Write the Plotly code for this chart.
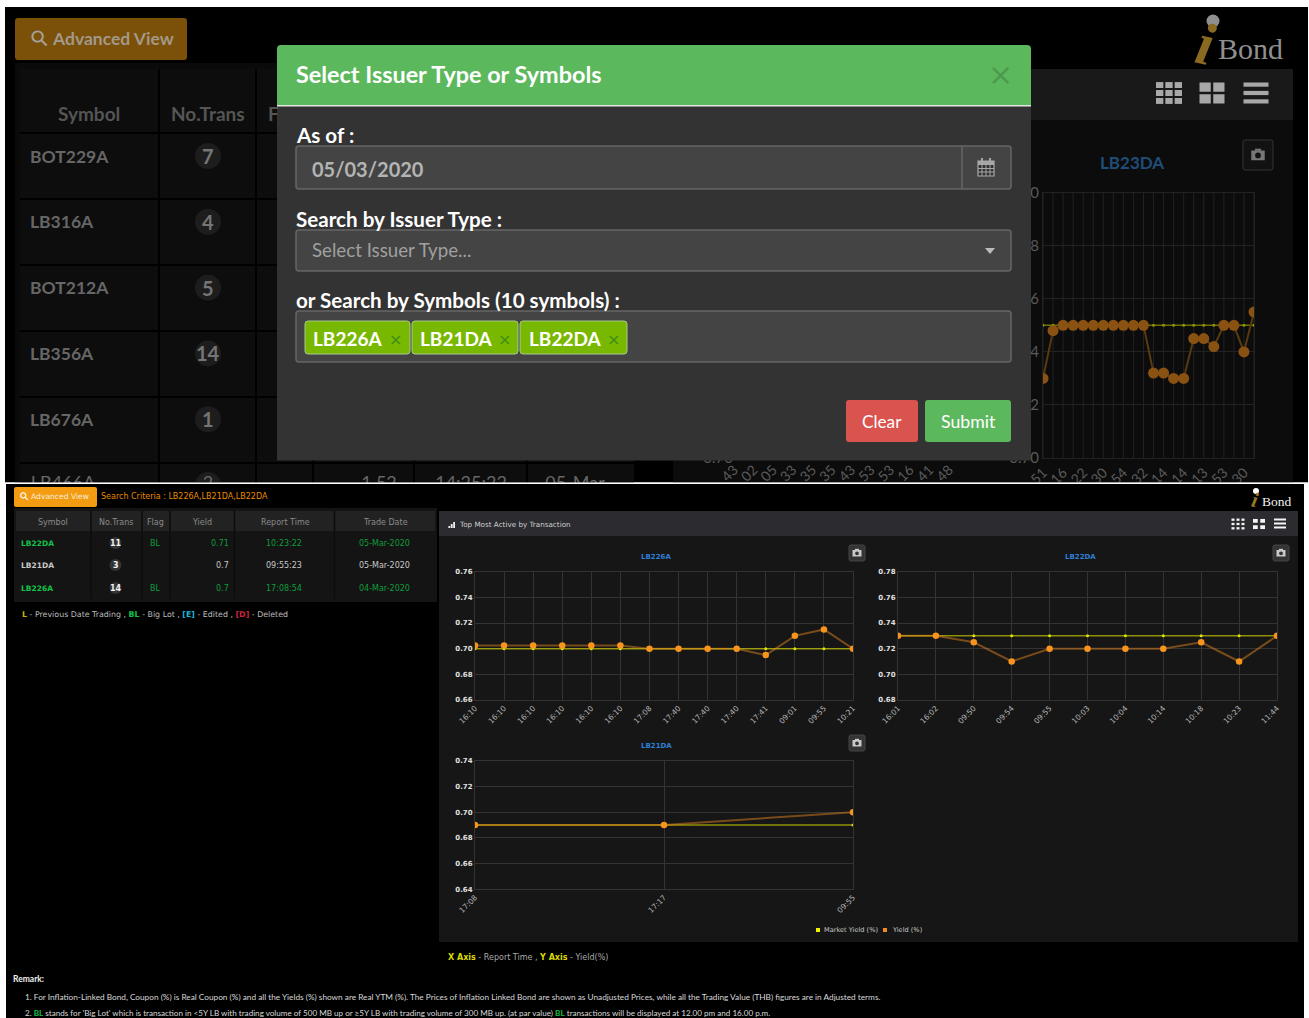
import plotly.graph_objects as go

W, H = 1309, 1018

# ---------- data ----------
top_symbols = ["BOT229A", "LB316A", "BOT212A", "LB356A", "LB676A"]
top_trans = ["7", "4", "5", "14", "1"]
cropped_row_cells = ["LB466A", "2", "1.52", "14:25:22", "05-Mar"]

table_columns = ["Symbol", "No.Trans", "Flag", "Yield", "Report Time", "Trade Date"]
table_symbols = ["LB22DA", "LB21DA", "LB226A"]
table_trans = ["11", "3", "14"]
table_flags = ["BL", "", "BL"]
table_yields = ["0.71", "0.7", "0.7"]
table_times = ["10:23:22", "09:55:23", "17:08:54"]
table_dates = ["05-Mar-2020", "05-Mar-2020", "04-Mar-2020"]

lb23da_yield = [0.73, 0.748, 0.75, 0.75, 0.75, 0.75, 0.75, 0.75, 0.75, 0.75, 0.75,
                0.732, 0.732, 0.73, 0.73, 0.745, 0.745, 0.742, 0.75, 0.75, 0.74, 0.755]
lb23da_market = [0.75] * 22
lb23da_ticks = ["51", "16", "22", "30", "54", "32", "14", "14", "13", "53", "30"]
hidden_chart_ticks = ["43", "02", "05", "33", "35", "35", "43", "53", "53", "16", "41", "48"]

lb226a_time = ["16:10", "16:10", "16:10", "16:10", "16:10", "16:10", "17:08",
               "17:40", "17:40", "17:40", "17:41", "09:01", "09:55", "10:21"]
lb226a_yield = [0.7025, 0.7025, 0.7025, 0.7025, 0.7025, 0.7025, 0.70,
                0.70, 0.70, 0.70, 0.695, 0.71, 0.715, 0.70]
lb226a_market = [0.70] * 14

lb22da_time = ["16:01", "16:02", "09:50", "09:54", "09:55", "10:03",
               "10:04", "10:14", "10:18", "10:23", "11:44"]
lb22da_yield = [0.73, 0.73, 0.725, 0.71, 0.72, 0.72, 0.72, 0.72, 0.725, 0.71, 0.73]
lb22da_market = [0.73] * 11

lb21da_time = ["17:08", "17:17", "09:55"]
lb21da_yield = [0.69, 0.69, 0.70]
lb21da_market = [0.69, 0.69, 0.69]

# ---------- helpers ----------
NARROW = "Lato, sans-serif"
DEJA = "DejaVu Sans, sans-serif"
SERIF = "Liberation Serif, serif"
shapes, annots = [], []


def fx(x):
    return x / W


def fy(y):
    return 1 - y / H


def rect(x0, y0, x1, y1, fill, line=None, layer="below", lw=1):
    shapes.append(dict(type="rect", xref="paper", yref="paper", x0=fx(x0), x1=fx(x1), y0=fy(y1), y1=fy(y0),
                       fillcolor=fill, line=dict(color=line or fill, width=lw if line else 0), layer=layer))


def rrect(x0, y0, x1, y1, r, fill, line=None, layer="below", lw=1):
    X0, X1, Y0, Y1 = fx(x0), fx(x1), fy(y0), fy(y1)
    rx, ry = r / W, r / H
    p = (f"M{X0+rx},{Y0} L{X1-rx},{Y0} Q{X1},{Y0} {X1},{Y0-ry} L{X1},{Y1+ry} Q{X1},{Y1} {X1-rx},{Y1} "
         f"L{X0+rx},{Y1} Q{X0},{Y1} {X0},{Y1+ry} L{X0},{Y0-ry} Q{X0},{Y0} {X0+rx},{Y0} Z")
    shapes.append(dict(type="path", xref="paper", yref="paper", path=p, fillcolor=fill,
                       line=dict(color=line or fill, width=lw if line else 0), layer=layer))


def circle(cx, cy, r, fill, line=None, layer="below", lw=1):
    shapes.append(dict(type="circle", xref="paper", yref="paper", x0=fx(cx-r), x1=fx(cx+r), y0=fy(cy+r), y1=fy(cy-r),
                       fillcolor=fill, line=dict(color=line or fill, width=lw if line else 0), layer=layer))


def seg(x0, y0, x1, y1, color, lw=1, layer="below"):
    shapes.append(dict(type="line", xref="paper", yref="paper", x0=fx(x0), x1=fx(x1), y0=fy(y0), y1=fy(y1),
                       line=dict(color=color, width=lw), layer=layer))


def text(x, y, s, size, color, anchor="left", family=NARROW, bold=False, angle=0, italic=False):
    if bold:
        s = f"<b>{s}</b>"
    if italic:
        s = f"<i>{s}</i>"
    annots.append(dict(xref="x7", yref="y7", x=x, y=y, text=s,
                       showarrow=False, xanchor=anchor, yanchor="middle", textangle=angle,
                       font=dict(size=size, color=color, family=family), borderpad=0, borderwidth=0))


def grid_icon(cx, cy, n, size, color, layer="below"):
    gap = 2 if n == 3 else 2.5
    w = (size - gap * (n - 1)) / n
    hh = size * 0.84
    h = (hh - gap * (n - 1)) / n
    for i in range(n):
        for j in range(n):
            x = cx - size / 2 + i * (w + gap)
            y = cy - hh / 2 + j * (h + gap)
            rect(x, y, x + w, y + h, color, layer=layer)


def lines_icon(cx, cy, w, h, color):
    bar = h / 5
    for j in range(3):
        y = cy - h / 2 + j * 2 * bar
        rect(cx - w / 2, y, cx + w / 2, y + bar, color)


def camera_button(cx, cy, size, bg, border, icon):
    rrect(cx - size / 2, cy - size / 2, cx + size / 2, cy + size / 2, 2, bg, border)
    s = size / 16 * (0.8 if size > 20 else 1)
    rect(cx - 4.5 * s, cy - 3 * s, cx + 4.5 * s, cy + 3.5 * s, icon)
    rect(cx - 2 * s, cy - 4.2 * s, cx + 2 * s, cy - 2.8 * s, icon)
    circle(cx, cy + 0.3 * s, 1.9 * s, bg)


# ---------- backgrounds ----------
rect(5, 7, 1308, 482.4, "#000000")
rect(6, 484, 1304, 1018, "#000000")

# --- upper screenshot, dimmed page ---
rrect(15, 18, 187, 60, 3, "#7b5008")
text(39, 38, "⚲", 22, "#a5a19a", "center", DEJA, angle=-45)
text(52, 38, "Advanced View", 17.5, "#a3998a", bold=True)

rect(15, 63, 634, 482.4, "#0a0a0a")
rect(20, 69, 634, 482.4, "#0d0d0d")
for x in [159, 256, 313, 414, 527]:
    seg(x, 69, x, 482.4, "#000000", 2)
for y in [133, 199, 265, 331, 397, 463]:
    seg(20, y, 634, y, "#000000", 2)
text(89, 113, "Symbol", 19, "#555555", "center", bold=True)
text(208, 113, "No.Trans", 19, "#555555", "center", bold=True)
text(268, 113, "F", 19, "#555555", bold=True)
for i, (sym, tr) in enumerate(zip(top_symbols, top_trans)):
    yy = 156 + i * 65.8
    text(30, yy, sym, 17.5, "#666666", bold=True)
    circle(208, yy, 13, "#1d1d1d")
    text(208, yy, tr, 20, "#757575", "center", bold=True)
circle(208, 485, 13, "#1d1d1d")

rect(673, 69, 1293, 482.4, "#0c0c0c")
rect(673, 69, 1293, 120, "#191919")
grid_icon(1169, 93, 3, 26, "#a8a8a8")
grid_icon(1212, 93, 2, 25, "#a8a8a8")
lines_icon(1256, 93, 25, 21, "#a8a8a8")
text(1132, 162, "LB23DA", 17, "#1f4e79", "center", bold=True)
camera_button(1258, 155, 30, "#121212", "#333333", "#777777")

# upper logo
circle(1213, 21, 6.5, "#8f8f8f")
text(1205, 44, "i", 60, "#8a6a20", "center", SERIF, bold=True, italic=True, angle=12)
text(1218, 48, "Bond", 30, "#8f8f8f", family=SERIF)

# --- modal ---
A = "above"
rrect(277, 45, 1031, 110, 4, "#5cb85c", layer=A)
rect(277, 105, 1031, 460.5, "#333333", layer=A)
rect(277, 105, 1031, 106.5, "#e6e6e6", layer=A)
rrect(296, 146, 1011, 189, 3, "#444444", "#666666", layer=A, lw=1.5)
seg(962, 146, 962, 189, "#666666", 1.5, layer=A)
rrect(296, 230, 1011, 271, 3, "#444444", "#666666", layer=A, lw=1.5)
rrect(296, 311, 1011, 362, 3, "#444444", "#666666", layer=A, lw=1.5)
# calendar glyph
rect(978, 161, 994, 176, "#333333", "#a8a8a8", layer=A, lw=1.2)
rect(978, 161, 994, 165, "#a8a8a8", layer=A)
for x in [982, 986, 990]:
    seg(x, 165, x, 176, "#a8a8a8", 1, layer=A)
for y in [168.5, 172]:
    seg(978, y, 994, y, "#a8a8a8", 1, layer=A)
for x in [982, 990]:
    seg(x, 158, x, 163, "#a8a8a8", 2, layer=A)
# select caret
shapes.append(dict(type="path", xref="paper", yref="paper", layer=A, fillcolor="#bbbbbb", line=dict(width=0),
                   path=f"M{fx(985)},{fy(248)} L{fx(995)},{fy(248)} L{fx(990)},{fy(254)} Z"))
# tags
for x0, x1 in [(305, 410), (412, 518), (520, 627)]:
    rrect(x0, 321, x1, 354, 3, "#79b800", "#a9c98f", layer=A)
rrect(846, 400, 918, 442, 3, "#d9534f", layer=A)
rrect(925, 400, 1011, 442, 3, "#5cb85c", layer=A)

text(296, 74, "Select Issuer Type or Symbols", 23.4, "#ffffff", bold=True)
text(1000, 74, "×", 30, "#4d9a4d", "center", DEJA)
text(296, 135, "As of :", 20.6, "#ffffff", bold=True)
text(312, 168.5, "05/03/2020", 20, "#b4b4b4", bold=True)
text(296, 219, "Search by Issuer Type :", 20.6, "#ffffff", bold=True)
text(312, 250, "Select Issuer Type...", 18.7, "#a0a0a0")
text(296, 300, "or Search by Symbols (10 symbols) :", 20.6, "#ffffff", bold=True)
for x, s, xx in [(313, "LB226A", 395), (420, "LB21DA", 504), (529, "LB22DA", 613)]:
    text(x, 338, s, 19, "#ffffff", bold=True)
    text(xx, 339, "×", 16, "#3d8f12", "center", DEJA)
text(882, 421, "Clear", 17.2, "#ffffff", "center")
text(968, 421, "Submit", 17.7, "#ffffff", "center")

# --- crop line between the two screenshots: hides what runs past it ---
rect(0, 482.4, W, 484, "#ffffff", layer=A)
rect(6, 484, 1304, 511, "#000000", layer=A)
rect(0, 484, 6, 511, "#ffffff", layer=A)
rect(1304, 484, W, 511, "#ffffff", layer=A)

# --- lower screenshot: header row ---
rrect(14, 487, 97, 507, 2, "#f39c12", layer=A)
text(24, 496, "⚲", 11, "#ffffff", "center", DEJA, angle=-45)
text(31, 496.5, "Advanced View", 7.6, "#f8ecd8", family=DEJA)
text(101, 496, "Search Criteria : LB226A,LB21DA,LB22DA", 8, "#e88a00", family=DEJA)
circle(1256, 491, 3, "#ffffff", layer=A)
text(1255, 500, "i", 21, "#9a7a20", "center", SERIF, bold=True, italic=True, angle=12)
text(1262, 501.5, "Bond", 13.5, "#f0f0f0", family=SERIF)

# --- lower screenshot: table ---
rect(14, 508, 437, 602, "#141414", layer=A)
rect(16, 511, 435, 531, "#222222", layer=A)
rect(14, 531, 437, 602, "#141414")
rows_y = [(532, 554), (554, 576), (576, 599)]
for y0, y1 in rows_y:
    rect(16, y0, 435, y1, "#191919")
for y in [532, 554, 576]:
    seg(16, y, 435, y, "#0c0c0c", 1.5)
for x in [91, 142, 170, 234.5, 334.5]:
    seg(x, 511, x, 599, "#0c0c0c", 1.5, layer=A)

header_x = [53, 116, 155, 202, 285, 385]
for hx, c in zip(header_x, table_columns):
    text(hx, 522, c, 8, "#8a8a8a", "center", DEJA)

GREEN, WHITE = "#13c24a", "#c8c8c8"
row_cols = [GREEN, WHITE, GREEN]
dim_green = ["#0f9c3c", "#c8c8c8", "#0f9c3c"]
for i in range(3):
    yy = [543, 565, 588][i]
    text(21, yy, table_symbols[i], 7.5, row_cols[i], family=DEJA, bold=True)
    circle(115.5, yy, 6, "#333333", layer=A)
    text(115.5, yy, table_trans[i], 8, "#f2f2f2", "center", DEJA, bold=True)
    if table_flags[i]:
        text(155, yy, table_flags[i], 8, dim_green[i], "center", DEJA)
    text(229, yy, table_yields[i], 8, dim_green[i], "right", DEJA)
    text(284, yy, table_times[i], 8, dim_green[i], "center", DEJA)
    text(384, yy, table_dates[i], 8, dim_green[i], "center", DEJA)
text(22, 614, ('<span style="color:#c9b400"><b>L</b></span> - Previous Date Trading , '
               '<span style="color:#12c24a"><b>BL</b></span> - Big Lot , '
               '<span style="color:#19b5d8"><b>[E]</b></span> - Edited , '
               '<span style="color:#c8243c"><b>[D]</b></span> - Deleted'),
     7.9, "#bcbcbc", family=DEJA)

# --- lower screenshot: chart panel ---
rect(439, 511, 1298, 942, "#161616")
rect(439, 511, 1298, 536, "#2b2b30")
for k in range(4):
    rect(446 + k * 2.4, 528 - 2 * k, 447.8 + k * 2.4, 528, "#f0f0f0")
text(459, 524.5, "Top Most Active by Transaction", 7.2, "#d0d0d0", family=DEJA)
grid_icon(1238, 524, 3, 13, "#f5f5f5")
grid_icon(1259, 524, 2, 12, "#f5f5f5")
lines_icon(1280, 523.5, 12, 10, "#f5f5f5")
camera_button(857, 553, 16, "#343434", "#454545", "#c8c8c8")
camera_button(1281, 553, 16, "#343434", "#454545", "#c8c8c8")
camera_button(857, 743, 16, "#343434", "#454545", "#c8c8c8")
text(656, 556.5, "LB226A", 7, "#2f7fd6", "center", DEJA, bold=True)
text(1080, 556.5, "LB22DA", 7, "#2f7fd6", "center", DEJA, bold=True)
text(656, 746, "LB21DA", 7, "#2f7fd6", "center", DEJA, bold=True)

# legend and axis notes
rect(816, 928, 820, 932, "#f2f200")
text(824, 930, "Market Yield (%)", 6.6, "#c8c8c8", family=DEJA)
rect(883, 928, 887, 932, "#f08a24")
text(892, 930, "Yield (%)", 6.6, "#c8c8c8", family=DEJA)
text(448, 957, ('<span style="color:#d8d800"><b>X Axis</b></span> - Report Time , '
                '<span style="color:#d8d800"><b>Y Axis</b></span> - Yield(%)'),
     8, "#a8a8a8", family=DEJA)
text(13, 979, "Remark:", 8.5, "#f0f0f0", bold=True)
text(25, 997, ("1. For Inflation-Linked Bond, Coupon (%) is Real Coupon (%) and all the Yields (%) shown are Real YTM (%). "
               "The Prices of Inflation Linked Bond are shown as Unadjusted Prices, while all the Trading Value (THB) "
               "figures are in Adjusted terms."), 8.25, "#d8d8d8")
text(25, 1013, ('2. <span style="color:#12c24a"><b>BL</b></span> stands for \'Big Lot\' which is transaction in &lt;5Y LB '
                'with trading volume of 500 MB up or ≥5Y LB with trading volume of 300 MB up. (at par value) '
                '<span style="color:#12c24a"><b>BL</b></span> transactions will be displayed at 12.00 pm and 16.00 p.m.'),
     8.1, "#d8d8d8")

# ---------- charts ----------
fig = go.Figure()


def add_chart(idx, times, market, yld, rng, box, dim=False):
    x0, y0, x1, y1 = box
    xs = list(range(len(yld)))
    suffix = str(idx) if idx > 1 else ""
    if dim:
        mk_c, ln_c, ym_c, yl_c, ms, yms = "#8a5212", "#5a3a10", "#8f9500", "#6a7000", 11, 3
        grid, tick = "#222222", "#5a5a5a"
    else:
        mk_c, ln_c, ym_c, yl_c, ms, yms = "#f7941e", "rgba(240,140,30,0.45)", "#e2e200", "rgba(225,225,0,0.6)", 6.5, 3
        grid, tick = "#333333", "#e0e0e0"
    fig.add_trace(go.Scatter(x=xs, y=market, mode="lines+markers", name="Market Yield (%)",
                             line=dict(color=yl_c, width=1.5), marker=dict(color=ym_c, size=yms),
                             xaxis="x" + suffix, yaxis="y" + suffix, showlegend=False, hoverinfo="skip"))
    fig.add_trace(go.Scatter(x=xs, y=yld, mode="lines+markers", name="Yield (%)",
                             line=dict(color=ln_c, width=2), marker=dict(color=mk_c, size=ms),
                             xaxis="x" + suffix, yaxis="y" + suffix, showlegend=False, hoverinfo="skip"))
    if dim:
        tickvals, ticktext = xs[::2], times
    else:
        tickvals, ticktext = xs, times
    fig.update_layout({
        "xaxis" + suffix: dict(domain=[fx(x0), fx(x1)], range=[0, len(yld) - 1], anchor="y" + suffix,
                               tickmode="array", tickvals=tickvals, ticktext=ticktext, tickangle=-45,
                               ticks="", showgrid=False if dim else True, gridcolor=grid, gridwidth=1,
                               showline=True, mirror=True, linecolor=grid, zeroline=False,
                               tickfont=dict(size=14 if dim else 7.5, color="#5a5a5a" if dim else "#b8b8b8",
                                             family=NARROW if dim else DEJA)),
        "yaxis" + suffix: dict(domain=[fy(y1), fy(y0)], range=rng, anchor="x" + suffix, dtick=0.02, tick0=0,
                               tickformat=".2f", ticks="", showgrid=True, gridcolor=grid, gridwidth=1,
                               showline=True, mirror=True, linecolor=grid, zeroline=False,
                               tickfont=dict(size=15 if dim else 7, color=tick,
                                             weight="normal" if dim else "bold",
                                             family=NARROW if dim else DEJA)),
    })


add_chart(1, lb23da_ticks, lb23da_market, lb23da_yield, [0.70, 0.80], (1043, 192.7, 1254, 458), dim=True)
add_chart(2, lb226a_time, lb226a_market, lb226a_yield, [0.66, 0.76], (475, 571.7, 853, 700))
add_chart(3, lb22da_time, lb22da_market, lb22da_yield, [0.68, 0.78], (898, 571.7, 1277, 700))
add_chart(4, lb21da_time, lb21da_market, lb21da_yield, [0.64, 0.74], (475, 760.7, 853, 889.3))

# vertical grid of the dimmed chart at every point (labels are on every other one)
for i in range(22):
    shapes.append(dict(type="line", xref="x", yref="y domain", x0=i, x1=i, y0=0, y1=1,
                       line=dict(color="#222222", width=1), layer="below"))

# chart hidden behind the dialog: only its axis labels stick out under it
fig.add_trace(go.Scatter(x=[], y=[], xaxis="x5", yaxis="y5", showlegend=False, hoverinfo="skip"))
# row of the table cropped at the screenshot edge
fig.add_trace(go.Scatter(x=[], y=[], xaxis="x6", yaxis="y6", showlegend=False, hoverinfo="skip"))
# full-canvas pixel frame for the page text
fig.add_trace(go.Scatter(x=[], y=[], xaxis="x7", yaxis="y7", showlegend=False, hoverinfo="skip"))
fig.update_layout(
    xaxis5=dict(domain=[fx(734), fx(949)], range=[0, 11], anchor="y5", tickmode="array",
                tickvals=list(range(12)), ticktext=hidden_chart_ticks, tickangle=-45, ticks="",
                showgrid=False, zeroline=False, showline=False,
                tickfont=dict(size=14, color="#5a5a5a", family=NARROW)),
    yaxis5=dict(domain=[fy(458), fy(300)], range=[0.70, 0.80], anchor="x5", tickmode="array",
                tickvals=[0.70], ticktext=["0.70"], ticks="", showgrid=False, zeroline=False, showline=False,
                tickfont=dict(size=15, color="#5a5a5a", family=NARROW)),
    xaxis6=dict(domain=[0, 1], range=[0, W], anchor="y6", tickmode="array",
                tickvals=[63, 208, 379, 471, 575], ticktext=cropped_row_cells, ticks="",
                showgrid=False, zeroline=False, showline=False, tickangle=0,
                tickfont=dict(size=18, color="#666666", family=NARROW)),
    yaxis6=dict(domain=[fy(470), fy(440)], range=[0, 1], anchor="x6", visible=False),
    xaxis7=dict(domain=[0, 1], range=[0, W], anchor="y7", visible=False),
    yaxis7=dict(domain=[0, 1], range=[H, 0], anchor="x7", visible=False),
)

fig.update_layout(width=W, height=H, autosize=False,
                  margin=dict(l=0, r=0, t=0, b=0, pad=0, autoexpand=False),
                  paper_bgcolor="#ffffff", plot_bgcolor="rgba(0,0,0,0)", showlegend=False,
                  shapes=shapes, annotations=annots, hovermode=False)

fig.write_html("out.html", config=dict(displayModeBar=False),
               post_script="document.body.style.margin='0';document.documentElement.style.overflow='hidden';")
